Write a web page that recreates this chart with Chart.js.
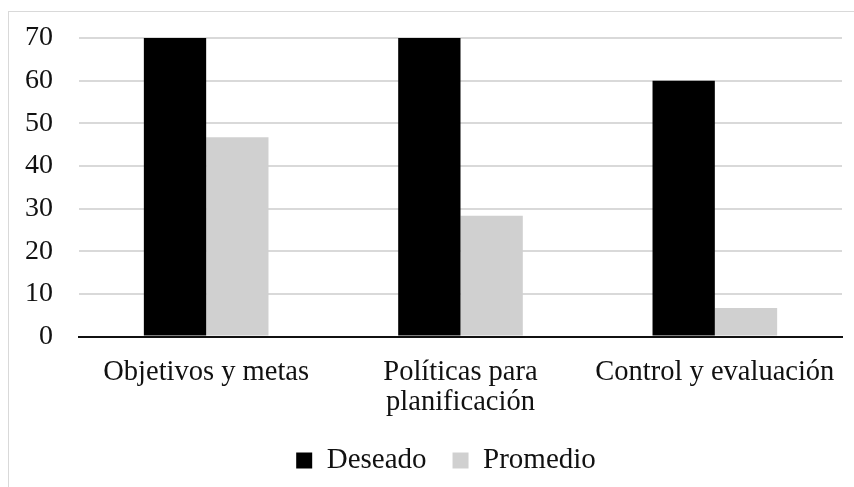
<!DOCTYPE html>
<html>
<head>
<meta charset="utf-8">
<script src="https://cdn.jsdelivr.net/npm/chart.js@4.4.1/dist/chart.umd.min.js"></script>
<style>
  html, body { margin: 0; padding: 0; background: #fff; overflow: hidden; }
  #frame {
    position: absolute; left: 8px; top: 11px; width: 900px; height: 520px;
    border: 1.5px solid #d9d9d9;
  }
  #wrap { position: absolute; left: 0; top: 0; width: 854px; height: 487px; }
</style>
</head>
<body>
<div id="frame"></div>
<div id="wrap"><canvas id="chart" width="854" height="487"></canvas></div>
<script>
// Categories and series
const categories = ['Objetivos y metas', ['Políticas para', 'planificación'], 'Control y evaluación'];
const deseado = [70, 70, 60];
const promedio = [46.7, 28.3, 6.7];
const yTicks = [0, 10, 20, 30, 40, 50, 60, 70];

const serif = "'Liberation Serif', 'Times New Roman', serif";

// Centre the legend under the plot area rather than the whole canvas
const legendShift = {
  id: 'legendShift',
  afterLayout(chart) {
    if (chart.legend) {
      chart.legend.left = chart.chartArea.left - 29;
    }
  }
};

const ctx = document.getElementById('chart').getContext('2d');

const chart = new Chart(ctx, {
  type: 'bar',
  data: {
    labels: categories,
    datasets: [
      {
        label: 'Deseado',
        data: deseado,
        backgroundColor: '#000000',
        borderWidth: 0
      },
      {
        label: 'Promedio',
        data: promedio,
        backgroundColor: '#d0d0d0',
        borderWidth: 0
      }
    ]
  },
  options: {
    responsive: false,
    animation: false,
    layout: {
      padding: { left: 0, right: 12, top: 38, bottom: 2 }
    },
    datasets: {
      bar: {
        categoryPercentage: 0.49,
        barPercentage: 1.0
      }
    },
    scales: {
      x: {
        grid: { display: false, drawTicks: false },
        border: { display: true, color: '#111', width: 2 },
        ticks: {
          color: '#111',
          padding: 21,
          maxRotation: 0,
          autoSkip: false,
          font: { family: serif, size: 28.5, lineHeight: 1.05 }
        },
        afterFit: function(scale) {
          scale.height = 83.5;
          scale.paddingLeft = 0;
          scale.paddingRight = 0;
        }
      },
      y: {
        min: 0,
        max: 70,
        afterBuildTicks: function(scale) {
          scale.ticks = yTicks.map(v => ({ value: v }));
        },
        grid: { color: '#d9d9d9', lineWidth: 2, drawTicks: false },
        border: { display: false },
        ticks: {
          color: '#111',
          padding: 26,
          font: { family: serif, size: 28 }
        },
        afterFit: function(scale) {
          scale.width = 79;
          scale.paddingTop = 0;
          scale.paddingBottom = 0;
        }
      }
    },
    plugins: {
      legend: {
        display: true,
        position: 'bottom',
        labels: {
          color: '#111',
          boxWidth: 16,
          boxHeight: 16,
          padding: 26,
          font: { family: serif, size: 29 }
        }
      },
      tooltip: { enabled: false }
    }
  },
  plugins: [legendShift]
});
</script>
</body>
</html>
